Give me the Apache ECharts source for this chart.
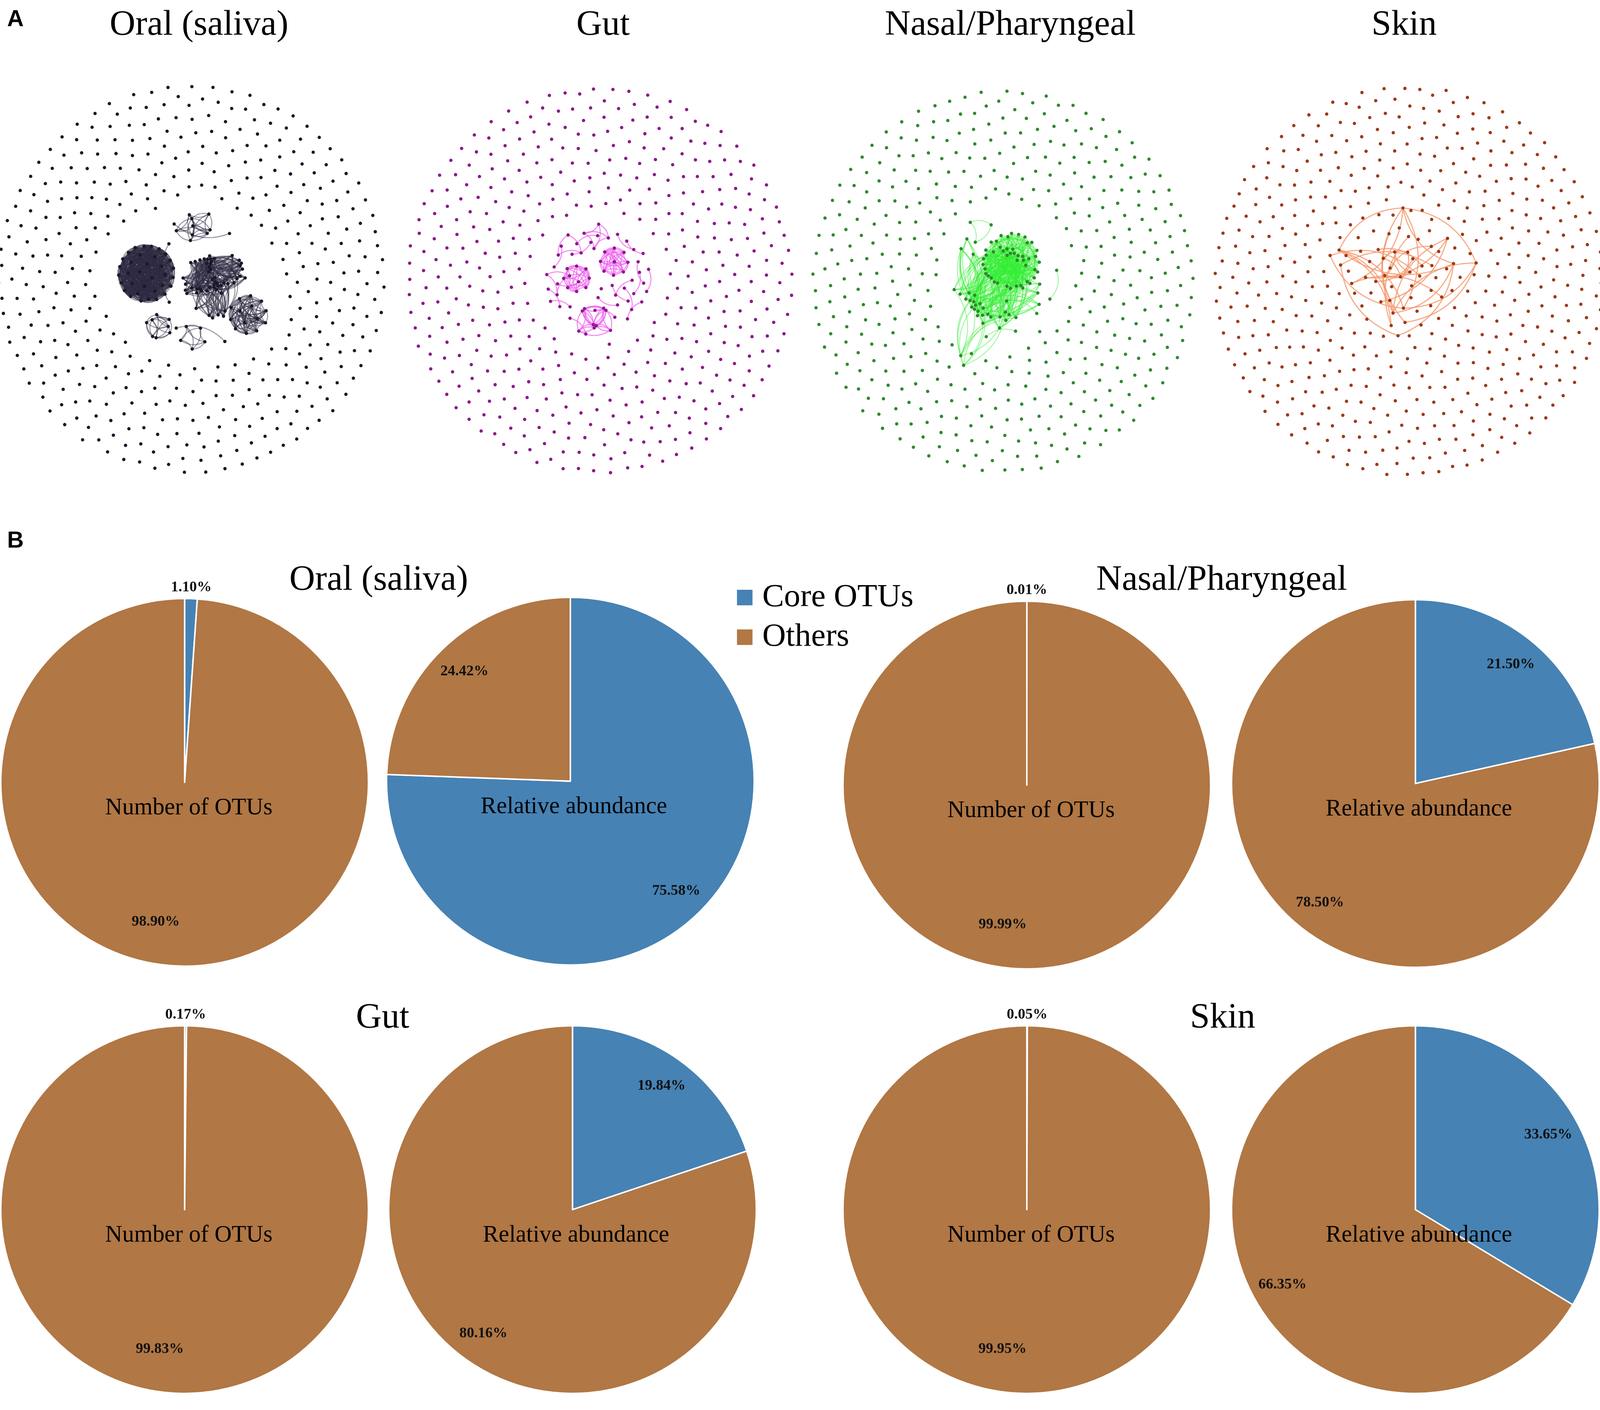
<!DOCTYPE html>
<html>
<head>
<meta charset="utf-8">
<title>Core OTUs by body site</title>
<script src="https://cdn.jsdelivr.net/npm/echarts@6/dist/echarts.min.js"></script>
<style>
html, body { margin: 0; padding: 0; background: #fff; overflow: hidden; }
</style>
</head>
<body>
<div id="main"></div>
<script>
'use strict'
// ---------------- data ----------------
var sites = ['Oral (saliva)', 'Gut', 'Nasal/Pharyngeal', 'Skin'];
var groups = ['Core OTUs', 'Others'];
// share of OTUs (count) and of relative abundance, [core, others], in %
var otuShare = [[1.10, 98.90], [0.17, 99.83], [0.01, 99.99], [0.05, 99.95]];
var abundanceShare = [[75.58, 24.42], [19.84, 80.16], [21.50, 78.50], [33.65, 66.35]];

// co-occurrence networks: unlinked OTUs + linked modules
// module = [size, links ('all' | chord offsets | edge list), edge length]
var oralIsolated = 410;
var oralModules = [
    [34, 'all', 100],
    [52, [1, 4, 9, 17], 85],
    [14, 'all', 70],
    [9, [1, 2, 3], 55],
    [8, [1, 2, 4], 50],
    [5, 'all', 55],
    [2, [1], 150], [2, [1], 150], [2, [1], 140]
];
var gutIsolated = 450;
var gutModules = [
    [8, 'all', 55], [9, 'all', 55], [9, [1, 2, 4], 55],
    [4, 'all', 55], [3, 'all', 60], [3, 'all', 60],
    [2, [1], 60], [2, [1], 60], [2, [1], 60], [2, [1], 60], [2, [1], 60], [2, [1], 60],
    [2, [1], 60], [2, [1], 60], [2, [1], 60], [2, [1], 60], [2, [1], 60], [2, [1], 60],
    [2, [1], 55], [2, [1], 55], [2, [1], 55], [2, [1], 55], [2, [1], 55], [2, [1], 55]
];
var nasalIsolated = 430;
var nasalModules = [
    [34, [1, 3, 7, 12], 130],
    [44, [1, 5, 13], 175],
    [3, 'all', 60],
    [2, [1], 80], [2, [1], 80], [2, [1], 90]
];
var skinIsolated = 500;
var skinModules = [
    [20, '0-1 0-2 0-3 1-2 1-3 2-3 2-4 3-4 4-5 3-5 1-5 5-6 6-7 4-8 8-9 2-10 10-11 10-12 0-13 13-14 14-15 3-16 16-17 1-18 18-19', 250],
    [3, 'all', 70], [3, 'all', 70],
    [2, [1], 130], [2, [1], 130], [2, [1], 120]
];

// ---------------- layout / style (designed on a 4550 x 3610 canvas) ----------------
var sx = (window.innerWidth || 4550) / 4550;
var sy = (window.innerHeight || 3610) / 3610;
var sz = Math.sqrt(sx * sy);
function X(v) { return v * sx; }
function Y(v) { return v * sy; }
function Z(v) { return v * sz; }
var el = document.getElementById('main');
el.style.width = X(4550) + 'px';
el.style.height = Y(3610) + 'px';

var serif = "'Liberation Serif', 'Times New Roman', serif";
var sans = "'Liberation Sans', Arial, sans-serif";
var colors = ['#4682b4', '#b17744'];
var pieR = Z(496);
var numberCenters = [[525, 2003], [525, 3097], [2920, 2010], [2920, 3097]];
var abundCenters = [[1622, 2000], [1628, 3097], [4025, 2006], [4025, 3097]];
var netCenters = [[544, 715], [1705, 718], [2853, 720], [4006, 720]];
var netRadius = [535, 530, 531, 538];
// where each module starts before the force layout settles it (offset from network centre)
var moduleSeeds = [
    [[-193, -20], [76, 6], [245, 102], [21, -209], [-265, 143], [43, 193], [102, -284], [-70, -120], [102, 164]],
    [[-70, 12], [40, -18], [-4, 114], [25, -120], [-85, -98], [-136, 26]],
    [[26, -106], [-54, 76], [-135, -380], [276, -81], [-54, 230], [140, 150]],
    [[-114, -27], [-234, -247], [-107, -152], [110, -342], [-199, -298], [-220, -122]]
];
// q = relative repulsion of linked OTUs vs unlinked ones (seeded modules / free modules)
var netStyle = [
    {node: '#1b1828', edge: '#2e2942', opacity: 0.5, width: 2.6, q: 0.6},
    {node: '#8c1a8c', edge: '#f060f0', opacity: 0.7, width: 3, q: 0.6},
    {node: '#2e8a2e', edge: '#30ee30', opacity: 0.45, width: 2.6, q: 0.8},
    {node: '#9c3b1a', edge: '#f69a70', opacity: 0.85, width: 3, q: 0.9}
];
var qFree = 0.5;

function buildNetwork(prefix, isolated, modules, seeds, center, qSeeded) {
    var nodes = [], links = [], id = 0, lens = [], qSum = 0;
    modules.forEach(function (m, mi) {
        var n = m[0], spec = m[1], len = m[2], base = id, seen = {}, pairs = [];
        var seed = seeds[mi];
        for (var i = 0; i < n; i++) {
            var node = {name: prefix + (id++), value: seed ? qSeeded : qFree};
            if (seed) {
                node.x = X(center[0]) + Z(seed[0]);
                node.y = Y(center[1]) + Z(seed[1]);
            }
            qSum += node.value;
            nodes.push(node);
        }
        function add(a, b) {
            if (a === b) return;
            var key = Math.min(a, b) + '_' + Math.max(a, b);
            if (seen[key]) return;
            seen[key] = true;
            pairs.push([a, b]);
        }
        if (spec === 'all') {
            for (var a = 0; a < n; a++) for (var b = a + 1; b < n; b++) add(a, b);
        } else if (typeof spec === 'string') {
            spec.split(' ').forEach(function (t) {
                var p = t.split('-');
                add(+p[0], +p[1]);
            });
        } else {
            for (var k = 0; k < n; k++) spec.forEach(function (off) { add(k, (k + off) % n); });
        }
        pairs.forEach(function (p) {
            links.push({source: base + p[0], target: base + p[1], value: -len});
        });
        lens.push(len);
    });
    var linked = id;
    // unlinked OTUs first so the view box falls back to the series rect
    for (var j = 0; j < isolated; j++) nodes.unshift({name: prefix + 'i' + j, value: 1});
    links.forEach(function (l) { l.source += isolated; l.target += isolated; });
    return {nodes: nodes, links: links, linked: linked, isolated: isolated, qSum: qSum,
        minLen: Math.min.apply(null, lens), maxLen: Math.max.apply(null, lens)};
}

var netData = [
    [oralIsolated, oralModules],
    [gutIsolated, gutModules],
    [nasalIsolated, nasalModules],
    [skinIsolated, skinModules]
];

var gravity = 0.1;
var series = [];
netData.forEach(function (nd, i) {
    var c = netCenters[i], st = netStyle[i];
    var net = buildNetwork('n' + i + '_', nd[0], nd[1], moduleSeeds[i], c, st.q);
    var total = net.linked + net.isolated;
    var R = Z(netRadius[i] * 1.03);
    var repHigh = gravity * R * R / (total + net.isolated + net.qSum);
    series.push({
        type: 'graph',
        layout: 'force',
        left: X(c[0]) - Z(540), top: Y(c[1]) - Z(540), width: Z(1080), height: Z(1080),
        data: net.nodes,
        links: net.links,
        symbol: 'circle',
        symbolSize: Z(9),
        silent: true,
        roam: false,
        itemStyle: {color: st.node},
        lineStyle: {color: st.edge, width: Z(st.width), opacity: st.opacity, curveness: 0.3},
        label: {show: false},
        emphasis: {disabled: true},
        force: {
            layoutAnimation: false,
            gravity: gravity,
            friction: 0.6,
            repulsion: [repHigh * qFree, repHigh],
            edgeLength: [Z(net.minLen), Z(net.maxLen)]
        }
    });
});

function pieLabelLayout(c, vals, frac, alignBig) {
    var total = vals[0] + vals[1];
    return function (p) {
        var before = 0;
        for (var i = 0; i < p.dataIndex; i++) before += vals[i];
        var share = vals[p.dataIndex] / total;
        var mid = (90 - 360 * (before / total + share / 2)) * Math.PI / 180;
        var small = share < 0.02;
        var dist = small ? pieR + Z(30) : pieR * frac;
        return {
            x: c[0] + Math.cos(mid) * dist,
            y: c[1] - Math.sin(mid) * dist,
            align: small ? 'center' : alignBig,
            verticalAlign: 'middle'
        };
    };
}

function pieSeries(center, vals, frac, alignBig) {
    var total = vals[0] + vals[1];
    var c = [X(center[0]), Y(center[1])];
    return {
        type: 'pie',
        center: c,
        radius: pieR,
        startAngle: 90,
        clockwise: true,
        silent: true,
        avoidLabelOverlap: false,
        itemStyle: {borderColor: '#fff', borderWidth: Z(4)},
        label: {
            show: true,
            position: 'inside',
            formatter: function (p) { return p.value.toFixed(2) + '%'; },
            fontFamily: serif,
            fontWeight: 'bold',
            fontSize: Z(40),
            color: '#111'
        },
        labelLine: {show: false},
        labelLayout: pieLabelLayout(c, vals, frac, alignBig),
        data: groups.map(function (g, k) {
            var item = {name: g, value: vals[k], itemStyle: {color: colors[k]}};
            if (vals[k] / total < 0.02) item.label = {position: 'outside'};
            return item;
        })
    };
}

var titles = [];
function addText(text, x, y, size, extra) {
    var ts = {fontFamily: serif, fontSize: Z(size), fontWeight: 'normal', color: '#000'};
    if (extra) for (var k in extra) ts[k] = extra[k];
    titles.push({text: text, left: X(x), top: Y(y), padding: 0, textAlign: 'center',
        textVerticalAlign: 'middle', textStyle: ts});
}

addText('A', 44, 51, 62, {fontFamily: sans, fontWeight: 'bold'});
addText('B', 44, 1386, 62, {fontFamily: sans, fontWeight: 'bold'});
var netTitleX = [566, 1715, 2873, 3993];
var pieTitlePos = [[1077, 1486], [1088, 2607], [3474, 1486], [3477, 2607]];
sites.forEach(function (name, i) {
    addText(name, netTitleX[i], 65, 96);
    addText(name, pieTitlePos[i][0], pieTitlePos[i][1], 96);
    series.push(pieSeries(numberCenters[i], otuShare[i], 0.76, 'right'));
    series.push(pieSeries(abundCenters[i], abundanceShare[i], 0.83, 'center'));
    addText('Number of OTUs', numberCenters[i][0] + 12, numberCenters[i][1] + 66, 64);
    addText('Relative abundance', abundCenters[i][0] + 10, abundCenters[i][1] + 66, 64);
});

var chart = echarts.init(el);
chart.setOption({
    backgroundColor: '#fff',
    animation: false,
    title: titles,
    legend: {
        data: groups,
        orient: 'vertical',
        left: X(2088),
        top: Y(1525) - Z(44),
        itemWidth: Z(44),
        itemHeight: Z(44),
        itemGap: Y(102) - Z(88),
        icon: 'rect',
        selectedMode: false,
        textStyle: {fontFamily: serif, fontSize: Z(88), color: '#000', padding: [0, 0, 0, Z(20)]}
    },
    series: series
});
</script>
</body>
</html>
